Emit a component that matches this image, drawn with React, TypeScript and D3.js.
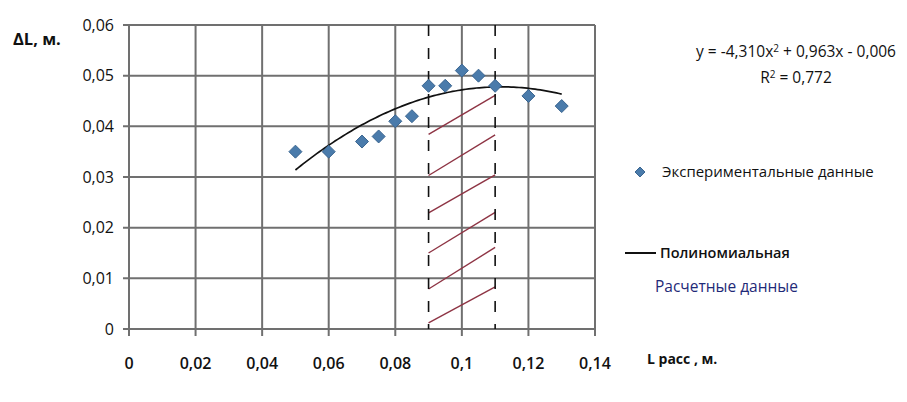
import React from "react";
import * as d3 from "d3";

const xTicks = [0, 0.02, 0.04, 0.06, 0.08, 0.1, 0.12, 0.14];
const yTicks = [0, 0.01, 0.02, 0.03, 0.04, 0.05, 0.06];
const expX = [0.05, 0.06, 0.07, 0.075, 0.08, 0.085, 0.09, 0.095, 0.1, 0.105, 0.11, 0.12, 0.13];
const expY = [0.035, 0.035, 0.037, 0.038, 0.041, 0.042, 0.048, 0.048, 0.051, 0.05, 0.048, 0.046, 0.044];
// polynomial trend coefficients (a, b, c) : y = a x^2 + b x + c
const polyCoef = [-4.31, 0.963, -0.006];
const trendRange = [0.05, 0.13];
// calculated data band
const bandX = [0.09, 0.11];
const hatchLeft = [0.0384, 0.0303, 0.0229, 0.015, 0.0079, 0.0012];
const hatchRight = [0.0461, 0.0383, 0.0304, 0.023, 0.0161, 0.0083];

const fmt = (v: number) => (v === 0 ? "0" : String(+v.toFixed(2)).replace(".", ","));

export default function App() {
  const W = 907, H = 402;
  const x = d3.scaleLinear().domain([0, 0.14]).range([129, 595]);
  const y = d3.scaleLinear().domain([0, 0.06]).range([329, 25]);
  const font = "'Open Sans', sans-serif";

  const trendPts = d3.range(0, 101).map((i) => {
    const xv = trendRange[0] + ((trendRange[1] - trendRange[0]) * i) / 100;
    return [xv, polyCoef[0] * xv * xv + polyCoef[1] * xv + polyCoef[2]] as [number, number];
  });
  const line = d3.line<[number, number]>().x((d) => x(d[0])).y((d) => y(d[1]));

  const diamond = (cx: number, cy: number, r: number) =>
    `M${cx},${cy - r}L${cx + r},${cy}L${cx},${cy + r}L${cx - r},${cy}Z`;

  return (
    <svg width={W} height={H} style={{ position: "absolute", left: 0, top: 0, background: "#fff" }}>
      <rect width={W} height={H} fill="#fff" />
      {/* grid */}
      {yTicks.map((t) => (
        <line key={"h" + t} x1={x(0) - 6} x2={x(0.14)} y1={y(t)} y2={y(t)} stroke="#707070" strokeWidth={2} />
      ))}
      {xTicks.map((t) => (
        <line key={"v" + t} x1={x(t)} x2={x(t)} y1={y(0.06)} y2={y(0) + 7} stroke="#707070" strokeWidth={2} />
      ))}
      {/* tick labels */}
      {yTicks.map((t) => (
        <text key={"yl" + t} x={114} y={y(t)} dy="0.35em" textAnchor="end" fontFamily={font} fontSize={16} fill="#111">
          {fmt(t)}
        </text>
      ))}
      {xTicks.map((t) => (
        <text key={"xl" + t} x={x(t)} y={363} dy="0.35em" textAnchor="middle" fontFamily={font} fontSize={16} fontWeight={600} fill="#111">
          {fmt(t)}
        </text>
      ))}
      {/* hatch lines */}
      {hatchLeft.map((v, i) => (
        <line key={"r" + i} x1={x(bandX[0])} y1={y(v)} x2={x(bandX[1])} y2={y(hatchRight[i])} stroke="#8e3444" strokeWidth={1.4} />
      ))}
      {/* dashed band bounds */}
      {bandX.map((b) => (
        <line key={"d" + b} x1={x(b)} x2={x(b)} y1={y(0.06)} y2={y(0)} stroke="#111" strokeWidth={1.6} strokeDasharray="11,12" />
      ))}
      {/* trend */}
      <path d={line(trendPts) || ""} fill="none" stroke="#111" strokeWidth={1.7} />
      {/* points */}
      {expX.map((xv, i) => (
        <path key={"p" + i} d={diamond(x(xv), y(expY[i]), 6.5)} fill="#4a7bab" stroke="#3a6590" strokeWidth={1} />
      ))}
      {/* axis titles */}
      <text x={13} y={39} dy="0.35em" fontFamily={font} fontSize={16.5} fontWeight={700} fill="#111">ΔL, м.</text>
      <text x={647} y={359} dy="0.35em" fontFamily={font} fontSize={14} fontWeight={700} fill="#111">L расс , м.</text>
      {/* equation */}
      <text x={796} y={52} dy="0.35em" textAnchor="middle" fontFamily={font} fontSize={15.5} fill="#111">
        y = -4,310x<tspan dy="-5" fontSize={10}>2</tspan><tspan dy="5"> + 0,963x - 0,006</tspan>
      </text>
      <text x={796} y={78} dy="0.35em" textAnchor="middle" fontFamily={font} fontSize={15.5} fill="#111">
        R<tspan dy="-5" fontSize={10}>2</tspan><tspan dy="5"> = 0,772</tspan>
      </text>
      {/* legend */}
      <path d={diamond(640, 172, 5)} fill="#4a7bab" stroke="#3a6590" strokeWidth={1} />
      <text x={662} y={172} dy="0.35em" fontFamily={font} fontSize={15} fill="#111">Экспериментальные данные</text>
      <line x1={625} x2={656} y1={253} y2={253} stroke="#111" strokeWidth={2} />
      <text x={660} y={253} dy="0.35em" fontFamily={font} fontSize={14.5} fontWeight={600} fill="#111">Полиномиальная</text>
      <text x={655} y={287} dy="0.35em" fontFamily={font} fontSize={15.5} fill="#1f2a78">Расчетные данные</text>
    </svg>
  );
}
